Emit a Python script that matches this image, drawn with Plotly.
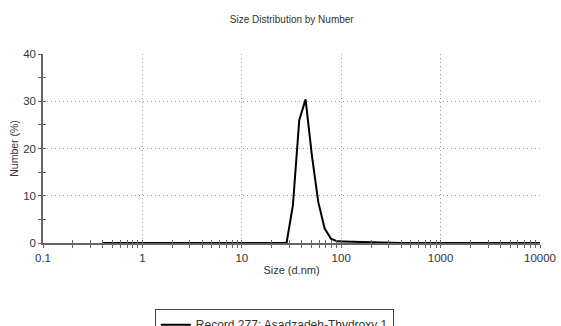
import plotly.graph_objects as go

# Size classes (d.nm) and number distribution (%)
sizes = [0.4, 0.4632, 0.5365, 0.6213, 0.7195, 0.8332, 0.9649, 1.117, 1.294, 1.499,
         1.736, 2.01, 2.328, 2.696, 3.122, 3.615, 4.187, 4.849, 5.615, 6.503,
         7.531, 8.721, 10.1, 11.7, 13.54, 15.69, 18.17, 21.04, 24.36, 28.21,
         32.67, 37.84, 43.82, 50.75, 58.77, 68.06, 78.82, 91.28, 105.7, 122.4,
         141.8, 164.2, 190.1, 220.2, 255.0, 295.3, 342.0, 396.1, 458.7, 531.2,
         615.1, 712.4, 825.0, 955.4, 1106, 1281, 1484, 1718, 1990, 2305,
         2669, 3091, 3580, 4145, 4801, 5560, 6439, 7456, 8635, 10000]
number_pct = [0]*29 + [0, 8.0, 26.0, 30.4, 18.5, 8.7, 3.1, 0.9, 0.35, 0.3,
                        0.25, 0.2, 0.15, 0.1, 0.07, 0.04, 0.02] + [0]*24

x_major = [0.1, 1, 10, 100, 1000, 10000]
x_major_labels = ["0.1", "1", "10", "100", "1000", "10000"]
x_minor = [m * d for d in [0.1, 1, 10, 100, 1000] for m in range(2, 10)]
y_major = [0, 10, 20, 30, 40]
y_minor = [5, 15, 25, 35]

legend_name = "Record 277: Asadzadeh-Thydroxy 1"

FONT = "Liberation Sans, Arial, sans-serif"
TXT = "#333333"
AXC = "#666666"
GRIDC = "#9a9a9a"

fig = go.Figure()
fig.add_trace(go.Scatter(x=sizes, y=number_pct, mode="lines",
                         line=dict(color="black", width=2),
                         name=legend_name, showlegend=True, hoverinfo="skip"))
# overlay trace so the second (tick-only) axes get drawn
fig.add_trace(go.Scatter(x=sizes, y=number_pct, mode="lines", xaxis="x2", yaxis="y2",
                         line=dict(color="rgba(0,0,0,0)", width=1),
                         showlegend=False, hoverinfo="skip"))

common_x = dict(type="log", range=[-1, 4], showline=True, linecolor=AXC, linewidth=1.5,
                zeroline=False, tickcolor=AXC, tickwidth=1)
fig.update_layout(
    width=561, height=326,
    margin=dict(l=43, r=21, t=54, b=83, autoexpand=False),
    paper_bgcolor="white", plot_bgcolor="white",
    font=dict(family=FONT, color=TXT),
    title=dict(text="Size Distribution by Number", x=0.52, xanchor="center",
               y=0.94, yanchor="middle", font=dict(size=10, color=TXT)),
    xaxis=dict(**common_x, tickmode="array", tickvals=x_major, ticktext=x_major_labels,
               ticks="outside", ticklen=3, showgrid=True, gridcolor=GRIDC,
               griddash="1px,3px", gridwidth=1,
               tickfont=dict(size=11.5, color=TXT),
               title=dict(text="Size (d.nm)", font=dict(size=11, color=TXT), standoff=4),
               minor=dict(tickmode="array", tickvals=x_minor, ticks="outside", ticklen=3,
                          tickcolor=AXC, showgrid=False)),
    xaxis2=dict(**common_x, overlaying="x", side="bottom", anchor="y",
                tickmode="array", tickvals=x_major + x_minor, ticks="inside", ticklen=3,
                showticklabels=False, showgrid=False),
    yaxis=dict(range=[0, 40], showline=True, linecolor=AXC, linewidth=1.5, zeroline=False,
               tickmode="array", tickvals=y_major, ticks="outside", ticklen=3,
               tickcolor=AXC, showgrid=True, gridcolor=GRIDC, griddash="1px,3px",
               tickfont=dict(size=11.5, color=TXT),
               title=dict(text="Number (%)", font=dict(size=10.5, color=TXT), standoff=2),
               minor=dict(tickmode="array", tickvals=y_minor, ticks="outside", ticklen=3,
                          tickcolor=AXC, showgrid=False)),
    yaxis2=dict(range=[0, 40], overlaying="y", side="left", anchor="x",
                showline=False, zeroline=False, tickmode="array",
                tickvals=y_major + y_minor, ticks="inside", ticklen=3, tickcolor=AXC,
                showticklabels=False, showgrid=False),
    legend=dict(x=0.225, y=-0.35, xanchor="left", yanchor="top",
                bordercolor="#444", borderwidth=1, bgcolor="white",
                font=dict(size=12, color=TXT), itemwidth=30,
                tracegroupgap=0),
    showlegend=True,
)

fig.write_html("out.html", config={"displayModeBar": False},
               post_script="document.body.style.margin='0';")
